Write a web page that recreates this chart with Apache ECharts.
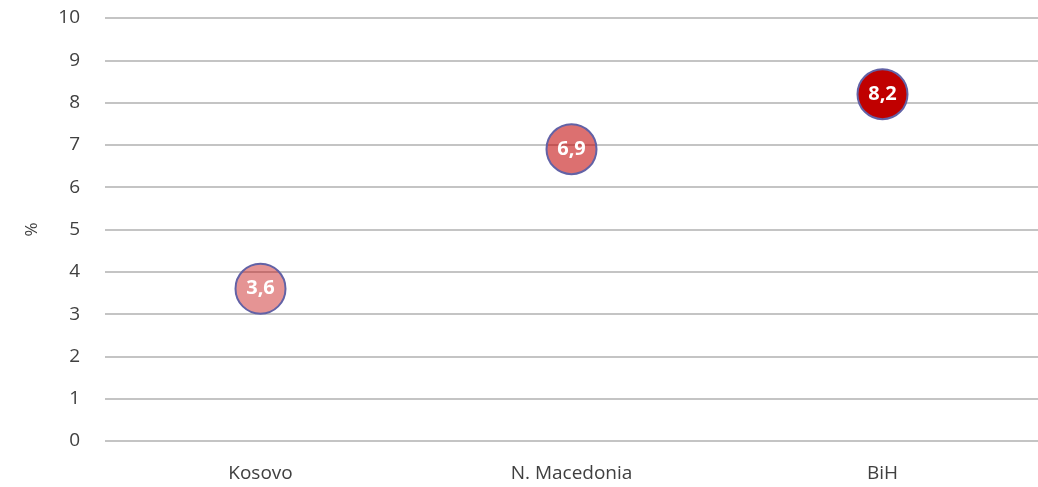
<!DOCTYPE html>
<html>
<head>
<meta charset="utf-8">
<script src="https://cdn.jsdelivr.net/npm/echarts@6/dist/echarts.min.js"></script>
<style>
  html, body { margin: 0; padding: 0; background: #fff; }
  #chart { width: 1038px; height: 487px; }
</style>
</head>
<body>
<div id="chart"></div>
<script>
// Categories and values (percent)
const categories = ['Kosovo', 'N. Macedonia', 'BiH'];
const values = [3.6, 6.9, 8.2];
const pointColors = ['rgba(192,0,0,0.42)', 'rgba(192,0,0,0.56)', '#C00000'];
const yTicks = { min: 0, max: 10, interval: 1 };

const FONT = '"Open Sans", Lato, sans-serif';

const chart = echarts.init(document.getElementById('chart'), null, { renderer: 'canvas' });

chart.setOption({
  animation: false,
  grid: { left: 105, right: 0, top: 18, bottom: 46 },
  xAxis: {
    type: 'category',
    data: categories,
    boundaryGap: true,
    axisLine: { show: false },
    axisTick: { show: false },
    axisLabel: { color: '#404040', fontSize: 19, fontFamily: FONT, margin: 23 }
  },
  yAxis: {
    type: 'value',
    min: yTicks.min,
    max: yTicks.max,
    interval: yTicks.interval,
    name: '%',
    nameLocation: 'middle',
    nameGap: 64,
    nameTextStyle: { color: '#404040', fontSize: 17, fontFamily: FONT },
    axisLine: { show: false },
    axisTick: { show: false },
    axisLabel: { color: '#404040', fontSize: 19, fontFamily: FONT, margin: 25 },
    splitLine: { lineStyle: { color: '#C4C4C4', width: 2 } }
  },
  series: [{
    type: 'scatter',
    symbol: 'circle',
    symbolSize: 50,
    data: values.map((v, i) => ({
      value: v,
      itemStyle: { color: pointColors[i], opacity: 1, borderColor: '#6262A6', borderWidth: 2 }
    })),
    label: {
      show: true,
      position: 'inside',
      color: '#ffffff',
      fontSize: 20,
      fontWeight: 'bold',
      fontFamily: FONT,
      formatter: p => String(p.value).replace('.', ',')
    }
  }]
});
</script>
</body>
</html>
